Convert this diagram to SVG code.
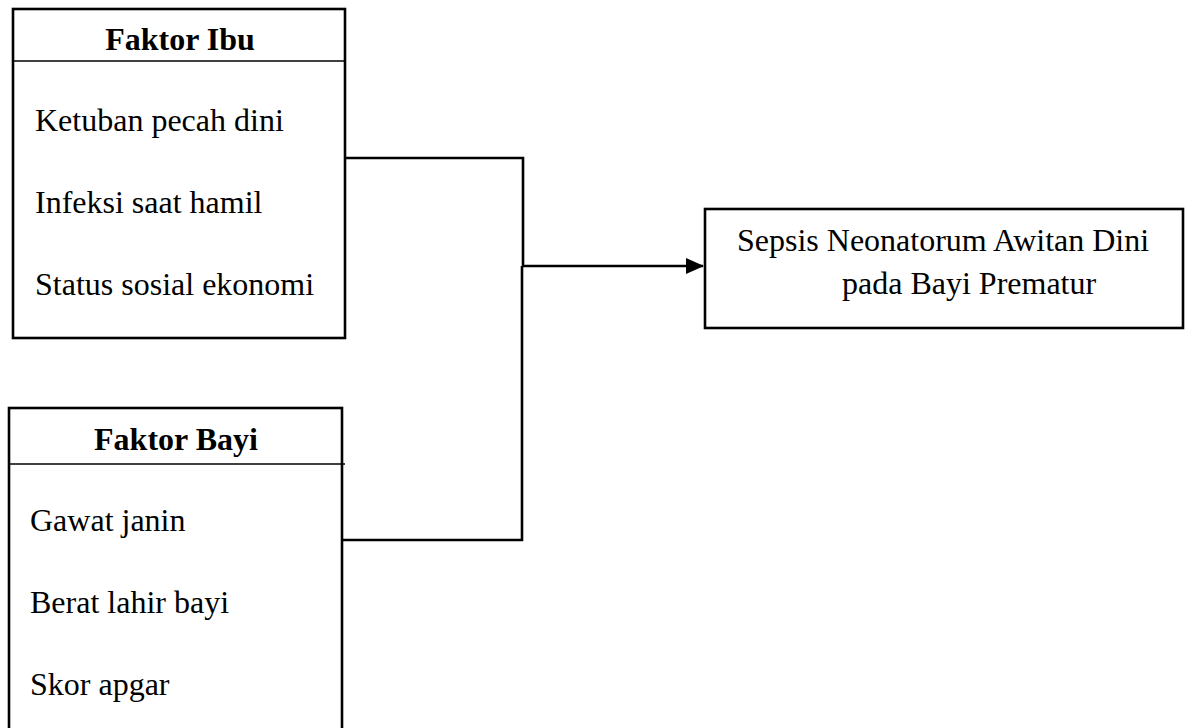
<svg xmlns="http://www.w3.org/2000/svg" width="1192" height="728" viewBox="0 0 1192 728">
<style>
.box{fill:#fff;stroke:#000;stroke-width:2.6}
.sep{stroke:#000;stroke-width:1.3}
.t{font-family:"Liberation Serif","Times New Roman",serif;font-size:32px;fill:#000}
.h{font-weight:bold;text-anchor:middle}
.conn{fill:none;stroke:#000;stroke-width:2.6}
</style>
<defs>
<marker id="arr" markerWidth="18" markerHeight="16" refX="17" refY="8" orient="auto" markerUnits="userSpaceOnUse">
<path d="M0,0 L18,8 L0,16 Z" fill="#000"/>
</marker>
</defs>
<rect width="1192" height="728" fill="#fff"/>
<g id="faktor-ibu">
<rect class="box" x="13" y="9" width="332" height="329"/>
<line class="sep" x1="13" y1="61" x2="345" y2="61"/>
<text class="t h" x="180" y="50">Faktor Ibu</text>
<text class="t" x="35" y="131">Ketuban pecah dini</text>
<text class="t" x="35" y="213">Infeksi saat hamil</text>
<text class="t" x="35" y="295">Status sosial ekonomi</text>
</g>
<g id="faktor-bayi">
<rect class="box" x="9" y="408" width="333" height="340"/>
<line class="sep" x1="9" y1="464" x2="345" y2="464"/>
<text class="t h" x="176" y="450">Faktor Bayi</text>
<text class="t" x="30" y="531">Gawat janin</text>
<text class="t" x="30" y="613">Berat lahir bayi</text>
<text class="t" x="30" y="695">Skor apgar</text>
</g>
<g id="sepsis">
<rect class="box" x="705" y="209" width="478" height="119"/>
<text class="t" x="737" y="251">Sepsis Neonatorum Awitan Dini</text>
<text class="t" x="842" y="294">pada Bayi Prematur</text>
</g>
<g id="connectors">
<polyline class="conn" points="345,158 523,158 523,267"/>
<polyline class="conn" points="342,540 522,540 522,266"/>
<line class="conn" x1="522" y1="266" x2="703" y2="266" marker-end="url(#arr)"/>
</g>
</svg>
